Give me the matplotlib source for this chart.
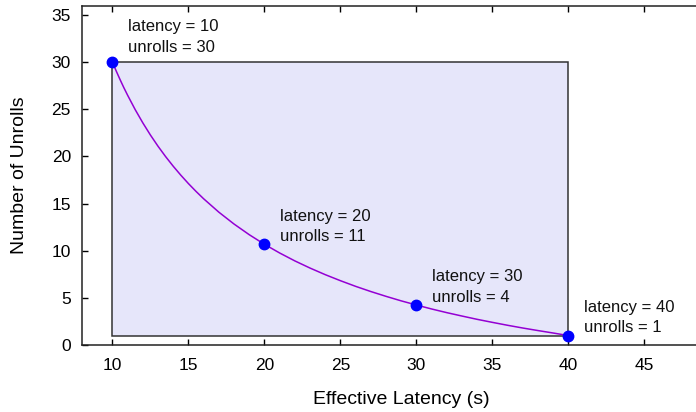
import numpy as np
import matplotlib
matplotlib.use("Agg")
import matplotlib.pyplot as plt
from matplotlib.patches import Rectangle

# values
curve_latency = [10, 10.25, 10.5, 10.75, 11, 11.5, 12, 12.5, 13, 13.5, 14, 14.5, 15, 15.5,
                 16, 17, 18, 19, 20, 21, 22, 23, 24, 25, 26, 27, 28, 29, 30,
                 31, 32, 33, 34, 35, 36, 37, 38, 39, 40]
curve_unrolls = [30.0, 29.06, 28.16, 27.30, 26.49, 24.96, 23.56, 22.27, 21.08, 19.98, 18.96,
                 18.01, 17.12, 16.29, 15.51, 14.09, 12.83, 11.70, 10.68, 9.76, 8.92, 8.16,
                 7.46, 6.82, 6.22, 5.67, 5.16, 4.68, 4.24, 3.82, 3.43, 3.07, 2.72, 2.40,
                 2.09, 1.80, 1.53, 1.27, 1.0]

point_latency = [10, 20, 30, 40]
point_unrolls = [30.0, 10.68, 4.24, 1.0]
point_labels = ["latency = 10\nunrolls = 30",
                "latency = 20\nunrolls = 11",
                "latency = 30\nunrolls = 4",
                "latency = 40\nunrolls = 1"]

box_latency = [10, 40]
box_unrolls = [1, 30]

x_ticks = [10, 15, 20, 25, 30, 35, 40, 45]
y_ticks = [0, 5, 10, 15, 20, 25, 30, 35]

plt.rcParams['font.family'] = ['Liberation Sans', 'DejaVu Sans']

fig = plt.figure(figsize=(6.96, 4.12), dpi=100)
# axes runs off the right edge like the cropped original
ax = fig.add_axes([0.1178, 0.1626, 0.9174, 0.824])

# shaded region
ax.add_patch(Rectangle((box_latency[0], box_unrolls[0]),
                       box_latency[1] - box_latency[0],
                       box_unrolls[1] - box_unrolls[0],
                       facecolor='#e6e6fa', edgecolor='#333333', linewidth=1.1, zorder=1))

ax.plot(curve_latency, curve_unrolls, color='#9400d3', linewidth=1.1, zorder=2)
ax.plot(point_latency, point_unrolls, 'o', color='#0000ff', markersize=7.5, zorder=3, clip_on=False)

# label offsets in points (dx, dy)
offsets = [(11, 18), (11, 13), (11, 13), (11, 13)]
for lx, ly, txt, off in zip(point_latency, point_unrolls, point_labels, offsets):
    ax.annotate(txt, (lx, ly), xytext=off, textcoords='offset points',
                fontsize=12, ha='left', va='center', color='#111111',
                linespacing=1.45, zorder=4)

ax.set_xlim(8, 50)
ax.set_ylim(0, 36)
ax.set_xticks(x_ticks)
ax.set_yticks(y_ticks)
ax.tick_params(direction='in', length=4.5, width=1, labelsize=12.5,
               top=True, right=True, pad=9)
ax.tick_params(axis='y', pad=8)
for sp in ax.spines.values():
    sp.set_linewidth(1.1)
    sp.set_color('#222222')

ax.set_xlabel('Effective Latency (s)', fontsize=14, labelpad=13)
ax.set_ylabel('Number of Unrolls', fontsize=14, labelpad=17)

fig.savefig('out.png', dpi=100)
